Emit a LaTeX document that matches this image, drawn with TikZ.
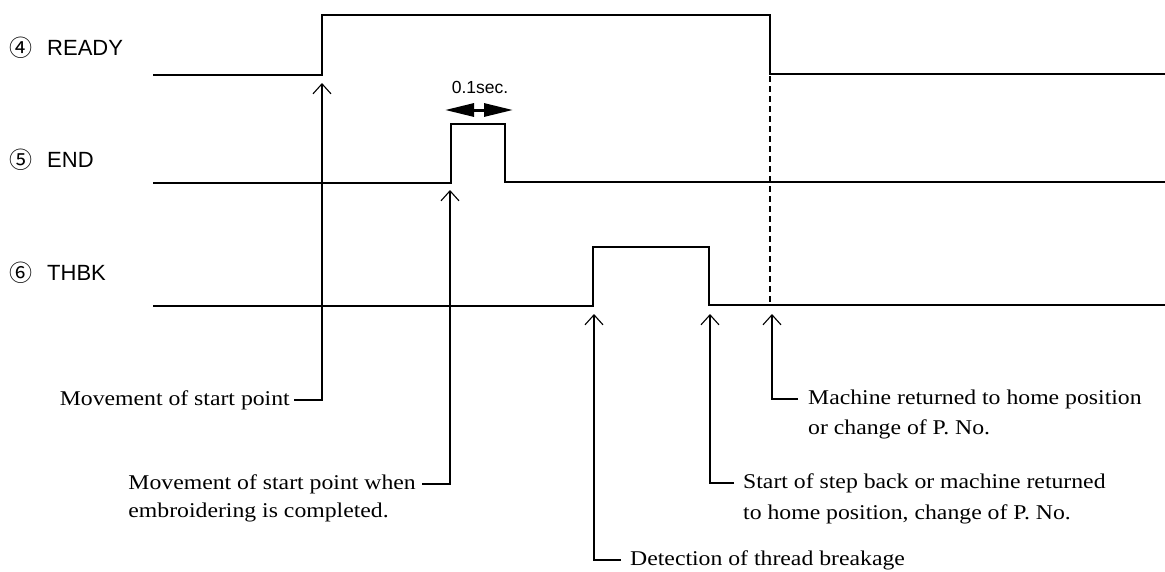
\documentclass[tikz,border=0pt]{standalone}
\usepackage{fontspec}
\setmainfont{Liberation Serif}[FakeStretch=1.13]
\setsansfont{Liberation Sans}
\newfontfamily\circfont{Noto Sans CJK JP}
\usetikzlibrary{positioning,arrows.meta,calc}

\begin{document}
\begin{tikzpicture}[
  x=1pt, y=-1pt,
  wave/.style={draw=black, line width=2.4pt, line join=miter},
  dashline/.style={draw=black, line width=1.2pt, dash pattern=on 6pt off 4pt},
  pointer/.style={draw=black, line width=1.1pt, -{Straight Barb[length=10pt,width=18pt]}},
  spanarrow/.style={draw=black, line width=3pt, {Triangle[length=29pt,width=13pt]}-{Triangle[length=29pt,width=13pt]}},
  sig/.style={font=\sffamily\fontsize{22}{26}\selectfont, inner sep=0pt},
  circ/.style={font=\circfont\fontsize{23}{26}\selectfont, inner sep=0pt},
  note/.style={font=\fontsize{21}{25}\selectfont, inner sep=0pt},
  small/.style={font=\sffamily\fontsize{17.5}{20}\selectfont, inner sep=0pt}
]
\useasboundingbox (0,0) rectangle (1165,571);

\node[circ] (cready) at (21,48) {④};
\node[circ] (cend) at (21,160) {⑤};
\node[circ] (cthbk) at (21,273) {⑥};
\node[sig, anchor=west] (lready) at (47,48) {READY};
\node[sig, anchor=west] (lend) at (47,160) {END};
\node[sig, anchor=west] (lthbk) at (47,273) {THBK};

\draw[wave] (153,75) -- (322,75) -- (322,15) -- (770,15) -- (770,74) -- (1165,74);
\draw[wave] (153,183) -- (451,183) -- (451,124) -- (505,124) -- (505,182) -- (1165,182);
\draw[wave] (153,306) -- (593,306) -- (593,247) -- (709,247) -- (709,305) -- (1165,305);
\draw[dashline] (770,76) -- (770,302);

\node[small] (lsec) at (480,87) {0.1sec.};
\draw[spanarrow] (445,110) -- (513,110);

\coordinate (tready) at (322,83);
\coordinate (tend) at (450,190);
\coordinate (tbreak) at (594,314);
\coordinate (tstep) at (710,314);
\coordinate (thome) at (772,314);

\node[note, anchor=east] (nstart) at (290,400) {Movement of start point};
\node[note, anchor=east] (ncomp) at (416,484) {Movement of start point when};
\node[note, anchor=base west] (ncomp2) at ($(ncomp.base west)+(0,28)$) {embroidering is completed.};
\node[note, anchor=west] (nbreak) at (630,560) {Detection of thread breakage};
\node[note, anchor=west] (nstep) at (743,483) {Start of step back or machine returned};
\node[note, anchor=base west] (nstep2) at ($(nstep.base west)+(0,31)$) {to home position, change of P. No.};
\node[note, anchor=west] (nhome) at (808,399) {Machine returned to home position};
\node[note, anchor=base west] (nhome2) at ($(nhome.base west)+(0,30)$) {or change of P. No.};

\draw[pointer] ([xshift=4pt]nstart.east) -| (tready);
\draw[pointer] ([xshift=6pt]ncomp.east) -| (tend);
\draw[pointer] ([xshift=-9pt]nbreak.west) -| (tbreak);
\draw[pointer] ([xshift=-9pt]nstep.west) -| (tstep);
\draw[pointer] ([xshift=-10pt]nhome.west) -| (thome);

\end{tikzpicture}
\end{document}
